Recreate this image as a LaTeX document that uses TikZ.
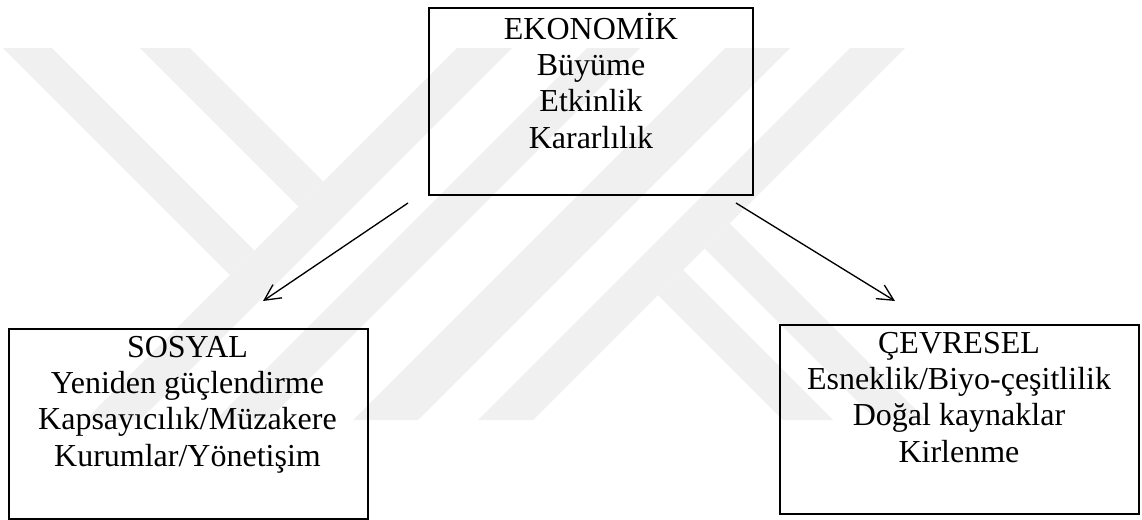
\documentclass[tikz,border=0pt]{standalone}
\usepackage{fontspec}
\setmainfont{Liberation Serif}
\usetikzlibrary{arrows.meta}
\begin{document}
\begin{tikzpicture}[x=0.75pt,y=-0.75pt,
  wm/.style={fill=black!6, draw=none},
  boxstyle/.style={draw, line width=1.5pt, inner sep=0pt, anchor=north west},
  boxtext/.style={anchor=base, align=center, inner sep=0pt, font=\fontsize{24pt}{27.2pt}\selectfont},
  arr/.style={line width=1pt, -{Straight Barb[length=12pt,width=12pt]}}]
\useasboundingbox (0,0) rectangle (1142,519);
% watermark
\fill[wm] (3,48) -- (52,48) -- (254.5,250.5) -- (230,275) -- cycle;
\fill[wm] (140,48) -- (190,48) -- (323.5,181.5) -- (298.5,206.5) -- cycle;
\fill[wm] (457,48) -- (512,48) -- (140,420) -- (85,420) -- cycle;
\fill[wm] (587,48) -- (640,48) -- (268,420) -- (215,420) -- cycle;
\fill[wm] (725,48) -- (790,48) -- (418,420) -- (353,420) -- cycle;
\fill[wm] (850,48) -- (905,48) -- (533,420) -- (478,420) -- cycle;
\fill[wm] (658,295) -- (683,270) -- (833,420) -- (783,420) -- cycle;
\fill[wm] (704.5,248.5) -- (729.5,223.5) -- (926,420) -- (876,420) -- cycle;
% boxes
\node[boxstyle, minimum width=243pt, minimum height=140.25pt] (eko) at (428,7) {};
\node[boxstyle, minimum width=269.25pt, minimum height=142.5pt] (sos) at (8,328) {};
\node[boxstyle, minimum width=269.25pt, minimum height=141.75pt] (cev) at (779,324) {};
\node[boxtext] (ekot) at (591,148) {EKONOMİK\\Büyüme\\Etkinlik\\Kararlılık};
\node[boxtext] (sost) at (187.5,466) {SOSYAL\\Yeniden güçlendirme\\Kapsayıcılık/Müzakere\\Kurumlar/Yönetişim};
\node[boxtext] (cevt) at (959,462) {ÇEVRESEL\\Esneklik/Biyo-çeşitlilik\\Doğal kaynaklar\\Kirlenme};
% arrows
\coordinate (a1) at (408,203);
\coordinate (a2) at (263,301);
\coordinate (b1) at (736,203);
\coordinate (b2) at (895,301);
\draw[arr] (a1) -- (a2);
\draw[arr] (b1) -- (b2);
\end{tikzpicture}
\end{document}
